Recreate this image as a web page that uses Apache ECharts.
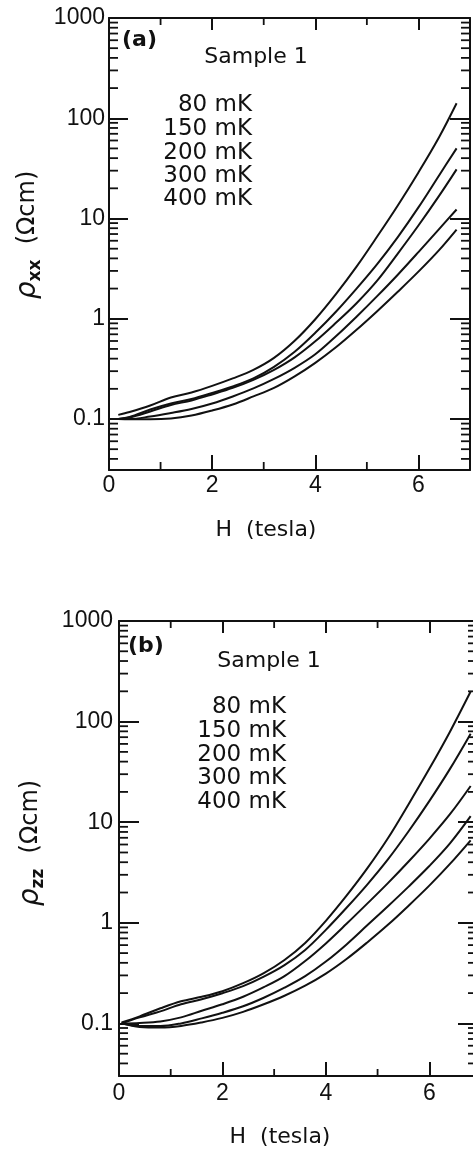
<!DOCTYPE html>
<html><head><meta charset="utf-8">
<script src="https://cdn.jsdelivr.net/npm/echarts@6/dist/echarts.min.js"></script>
<style>html,body{margin:0;padding:0;background:#fff}#c{width:473px;height:1151px}</style>
</head><body><div id="c"></div>
<script>
// ---- data ----
const temperatures = ['80 mK', '150 mK', '200 mK', '300 mK', '400 mK'];
const xTickLabels = ['0', '2', '4', '6'];
const yTickLabels = ['0.1', '1', '10', '100', '1000'];

// panel (a): rho_xx (ohm cm) vs H (tesla)
const fieldA   = [0.18, 0.4, 0.8, 1.2, 1.6, 2.0, 2.4, 2.8, 3.2, 3.6, 4.0, 4.4, 4.8, 5.2, 5.6, 6.0, 6.4, 6.74];
const rhoXX80  = [0.110, 0.1175, 0.1365, 0.164, 0.184, 0.214, 0.254, 0.309, 0.407, 0.603, 0.989, 1.76, 3.31, 6.61, 13.5, 28.8, 64.6, 141];
const rhoXX150 = [0.100, 0.1047, 0.1245, 0.1429, 0.1585, 0.182, 0.2113, 0.254, 0.331, 0.468, 0.724, 1.175, 2.00, 3.51, 6.53, 12.9, 26.9, 50.1];
const rhoXX200 = [0.100, 0.1035, 0.1189, 0.138, 0.1531, 0.1758, 0.2042, 0.2455, 0.309, 0.412, 0.596, 0.912, 1.43, 2.40, 4.47, 8.51, 16.8, 30.9];
const rhoXX300 = [0.100, 0.100, 0.1059, 0.1148, 0.1259, 0.1429, 0.1679, 0.2018, 0.251, 0.324, 0.442, 0.668, 1.047, 1.68, 2.75, 4.62, 7.85, 12.3];
const rhoXX400 = [0.100, 0.0993, 0.0993, 0.1012, 0.1084, 0.1216, 0.1396, 0.1679, 0.2042, 0.266, 0.363, 0.519, 0.776, 1.19, 1.86, 2.95, 4.84, 7.76];

// panel (b): rho_zz (ohm cm) vs H (tesla)
const fieldB   = [0.05, 0.4, 0.8, 1.2, 1.6, 2.0, 2.4, 2.8, 3.2, 3.6, 4.0, 4.4, 4.8, 5.2, 5.6, 6.0, 6.4, 6.8];
const rhoZZ80  = [0.1023, 0.1175, 0.1413, 0.166, 0.184, 0.209, 0.251, 0.316, 0.427, 0.631, 1.047, 1.86, 3.47, 6.92, 15.1, 33.9, 79.4, 199];
const rhoZZ150 = [0.100, 0.1148, 0.1318, 0.1549, 0.1738, 0.1995, 0.2344, 0.2917, 0.380, 0.537, 0.851, 1.41, 2.40, 4.27, 8.13, 16.2, 33.9, 75.9];
const rhoZZ200 = [0.100, 0.1012, 0.1047, 0.1148, 0.1334, 0.1549, 0.184, 0.229, 0.295, 0.417, 0.624, 0.977, 1.55, 2.48, 4.07, 6.84, 12.0, 22.9];
const rhoZZ300 = [0.100, 0.0944, 0.094, 0.100, 0.1122, 0.1274, 0.1479, 0.1799, 0.2265, 0.295, 0.412, 0.610, 0.944, 1.46, 2.29, 3.67, 6.17, 11.5];
const rhoZZ400 = [0.100, 0.0923, 0.0912, 0.0944, 0.1023, 0.1135, 0.1303, 0.1549, 0.1884, 0.2371, 0.3126, 0.4365, 0.638, 0.955, 1.48, 2.34, 3.85, 6.61];

const yMinorTicks = [0.04,0.05,0.06,0.07,0.08,0.09, 0.2,0.3,0.4,0.5,0.6,0.7,0.8,0.9, 2,3,4,5,6,7,8,9, 20,30,40,50,60,70,80,90, 200,300,400,500,600,700,800,900];
const xMinorTicks = [1, 3, 5];

// ---- chart ----
const INK = '#111';
const FONT = '"DejaVu Sans", sans-serif';
const TICKFONT = '"Liberation Sans", "DejaVu Sans", sans-serif';
const chart = echarts.init(document.getElementById('c'), null, {renderer: 'canvas'});

function xAxisCfg(grid, pos, labels, tickLen, margin) {
  return {
    type: 'value', gridIndex: grid, position: pos, min: 0, max: 7, interval: 2,
    axisLine: {show: true, onZero: false, lineStyle: {color: INK, width: 2}},
    axisTick: {show: true, inside: true, length: tickLen, lineStyle: {color: INK, width: 2}},
    splitLine: {show: false},
    axisLabel: {show: labels, margin: margin || 5, color: INK, fontFamily: TICKFONT, fontSize: 23,
      formatter: v => xTickLabels.indexOf(String(v)) >= 0 ? String(v) : ''}
  };
}
function yAxisCfg(grid, pos, min, labels, tickLen, margin) {
  return {
    type: 'log', logBase: 10, gridIndex: grid, position: pos, min: min, max: 1000,
    axisLine: {show: true, onZero: false, lineStyle: {color: INK, width: 2}},
    axisTick: {show: true, inside: true, length: tickLen, lineStyle: {color: INK, width: 2}},
    splitLine: {show: false}, minorTick: {show: false},
    axisLabel: {show: labels, margin: margin || 4, color: INK, fontFamily: TICKFONT, fontSize: 23,
      showMinLabel: true, showMaxLabel: true,
      formatter: v => {
        const e = Math.log10(v);
        if (Math.abs(e - Math.round(e)) > 1e-6) return '';
        const s = Math.round(e) < 0 ? '0.1' : String(Math.round(v));
        return yTickLabels.indexOf(s) >= 0 ? s : '';
      }}
  };
}
function minorY(xi, yi, lenL, lenR) {
  return {
    type: 'custom', xAxisIndex: xi, yAxisIndex: yi, silent: true, clip: false, animation: false,
    data: yMinorTicks.map(v => [1, v]),
    renderItem(params, api) {
      const cs = params.coordSys;
      const y = api.coord([1, api.value(1)])[1];
      const st = {stroke: INK, lineWidth: 1.8};
      return {type: 'group', children: [
        {type: 'line', shape: {x1: cs.x, y1: y, x2: cs.x + lenL, y2: y}, style: st},
        {type: 'line', shape: {x1: cs.x + cs.width, y1: y, x2: cs.x + cs.width - lenR, y2: y}, style: st}
      ]};
    }
  };
}
function minorX(xi, yi, lenB, lenT) {
  return {
    type: 'custom', xAxisIndex: xi, yAxisIndex: yi, silent: true, clip: false, animation: false,
    data: xMinorTicks.map(v => [v, 1]),
    renderItem(params, api) {
      const cs = params.coordSys;
      const x = api.coord([api.value(0), 1])[0];
      const st = {stroke: INK, lineWidth: 1.8};
      return {type: 'group', children: [
        {type: 'line', shape: {x1: x, y1: cs.y + cs.height, x2: x, y2: cs.y + cs.height - lenB}, style: st},
        {type: 'line', shape: {x1: x, y1: cs.y, x2: x, y2: cs.y + lenT}, style: st}
      ]};
    }
  };
}
function curves(field, sets, xi, yi) {
  return sets.map((arr, i) => ({
    type: 'line', name: temperatures[i], xAxisIndex: xi, yAxisIndex: yi,
    data: field.map((h, j) => [h, arr[j]]),
    symbol: 'none', showSymbol: false, smooth: 0.35, animation: false,
    lineStyle: {color: INK, width: 2}, silent: true
  }));
}

function label(x, y, text, align, font) {
  return {type: 'text', x: x, y: y, silent: true,
    style: {text: text, textAlign: align, textVerticalAlign: 'middle', fill: INK, font: font || ('23px ' + FONT)}};
}
function yTitle(x, y, sub) {
  return {type: 'text', x: x, y: y, rotation: Math.PI / 2, silent: true,
    style: {text: '{r|ρ}{s|' + sub + '}{n|  (Ωcm)}', textAlign: 'center', textVerticalAlign: 'middle',
      fill: INK,
      rich: {
        r: {fontFamily: FONT, fontStyle: 'italic', fontSize: 28, lineHeight: 32, fill: INK, verticalAlign: 'middle'},
        s: {fontFamily: FONT, fontWeight: 'bold', fontSize: 17, lineHeight: 16, fill: INK, verticalAlign: 'bottom'},
        n: {fontFamily: FONT, fontSize: 24, lineHeight: 32, fill: INK, verticalAlign: 'middle'}
      }}};
}

const graphics = [
  label(122, 40, '(a)', 'left', 'bold 22px ' + FONT),
  label(256, 57, 'Sample 1', 'center', '22px ' + FONT),
  label(266, 530, 'H  (tesla)', 'center', '22px ' + FONT),
  yTitle(28, 235, 'xx'),
  label(128, 646, '(b)', 'left', 'bold 22px ' + FONT),
  label(269, 661, 'Sample 1', 'center', '22px ' + FONT),
  label(280, 1137, 'H  (tesla)', 'center', '22px ' + FONT),
  yTitle(31, 843, 'zz')
];
const tempYA = [105, 129, 153, 176, 199];
const tempYB = [707, 731, 755, 778, 802];
temperatures.forEach((t, i) => {
  graphics.push(label(252, tempYA[i], t, 'right'));
  graphics.push(label(286, tempYB[i], t, 'right'));
});

chart.setOption({
  backgroundColor: '#fff',
  animation: false,
  grid: [
    {left: 109, top: 18, width: 361, height: 452, outerBoundsMode: 'none', containLabel: false},
    {left: 119, top: 621, width: 362, height: 455, outerBoundsMode: 'none', containLabel: false}
  ],
  xAxis: [
    xAxisCfg(0, 'bottom', true, 15, 4), xAxisCfg(0, 'top', false, 12),
    xAxisCfg(1, 'bottom', true, 14, 6), xAxisCfg(1, 'top', false, 12)
  ],
  yAxis: [
    yAxisCfg(0, 'left', 0.031, true, 19, 4), yAxisCfg(0, 'right', 0.031, false, 20),
    yAxisCfg(1, 'left', 0.030, true, 20, 6), yAxisCfg(1, 'right', 0.030, false, 23)
  ],
  series: [
    ...curves(fieldA, [rhoXX80, rhoXX150, rhoXX200, rhoXX300, rhoXX400], 0, 0),
    ...curves(fieldB, [rhoZZ80, rhoZZ150, rhoZZ200, rhoZZ300, rhoZZ400], 2, 2),
    minorY(0, 0, 9, 9), minorX(0, 0, 8, 7),
    minorY(2, 2, 9, 13), minorX(2, 2, 7, 7)
  ],
  graphic: {elements: graphics}
});
</script>
</body></html>
